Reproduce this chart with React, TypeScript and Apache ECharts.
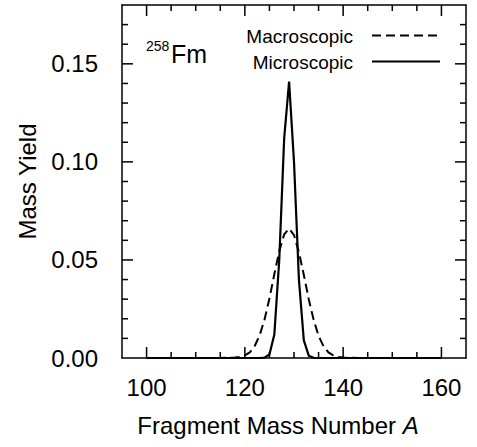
import React, { useEffect, useRef } from "react";
import * as echarts from "echarts";

const massNumbers = [
  100, 105, 110, 115, 116, 117, 118, 119, 120, 121, 122, 123, 124, 125, 126, 127, 128, 129,
  130, 131, 132, 133, 134, 135, 136, 137, 138, 139, 140, 141, 142, 143, 145, 150, 155, 160,
];
const macroscopic = [
  0, 0, 0, 0, 0.0001, 0.0001, 0.0002, 0.0005, 0.0013, 0.0029, 0.0061, 0.0115, 0.0196, 0.0303,
  0.0428, 0.0545, 0.063, 0.066, 0.0627, 0.054, 0.0423, 0.03, 0.0194, 0.0113, 0.006, 0.0029,
  0.0013, 0.0005, 0.0002, 0.0001, 0.0001, 0, 0, 0, 0, 0,
];
const microscopic = [
  0, 0, 0, 0, 0, 0, 0, 0, 0, 0, 0, 0, 0.0002, 0.0018, 0.012, 0.05, 0.112, 0.141, 0.1, 0.04,
  0.009, 0.0012, 0.0001, 0, 0, 0, 0, 0, 0, 0, 0, 0, 0, 0, 0, 0,
];
const xTickValues = [100, 105, 110, 115, 120, 125, 130, 135, 140, 145, 150, 155, 160];
const xMajorValues = [100, 120, 140, 160];
const yTickValues = [0.01, 0.02, 0.03, 0.04, 0.05, 0.06, 0.07, 0.08, 0.09, 0.1, 0.11, 0.12, 0.13, 0.14, 0.15, 0.16, 0.17];
const yMajorValues = [0, 0.05, 0.1, 0.15];
const legendNames = ["Macroscopic", "Microscopic"];

const FONT = "'Liberation Sans', Arial, Helvetica, sans-serif";
const X_MIN = 95;
const X_MAX = 165;
const Y_MIN = 0;
const Y_MAX = 0.18;
const GRID = { left: 122, right: 11, top: 5, bottom: 89 };
const W = 477;
const H = 447;
const MINOR = 6;
const MAJOR = 11;
const LW = 1.5;

function mkLine() {
  return { show: true, onZero: false, lineStyle: { color: "#000", width: LW } };
}

export default function App() {
  const ref = useRef<HTMLDivElement>(null);
  useEffect(() => {
    if (!ref.current) return;
    const chart = echarts.init(ref.current, undefined, { renderer: "svg" });
    const isXMajor = (v: number) => xMajorValues.some((m) => Math.abs(m - v) < 1e-9);
    const isYMajor = (v: number) => yMajorValues.some((m) => Math.abs(m - v) < 1e-9);

    chart.setOption({
      animation: false,
      textStyle: { fontFamily: FONT },
      grid: { ...GRID, outerBoundsMode: "none" },
      xAxis: [
        {
          type: "value",
          min: X_MIN,
          max: X_MAX,
          interval: 5,
          position: "bottom",
          axisLine: mkLine(),
          axisTick: { show: false },
          splitLine: { show: false },
          name: "{n|Fragment Mass Number }{i|A}",
          nameLocation: "middle",
          nameGap: 55,
          nameMoveOverlap: false,
          nameTextStyle: {
            padding: [0, 32, 0, 0],
            rich: {
              n: { fontSize: 24, color: "#000", fontFamily: FONT },
              i: { fontSize: 24, color: "#000", fontFamily: FONT, fontStyle: "italic" },
            },
          },
          axisLabel: {
            margin: 17,
            fontSize: 24,
            color: "#000",
            fontFamily: FONT,
            formatter: (v: number) => (isXMajor(v) ? String(Math.round(v)) : ""),
          },
        },
        {
          type: "value",
          min: X_MIN,
          max: X_MAX,
          interval: 5,
          position: "top",
          axisLine: mkLine(),
          axisTick: { show: false },
          splitLine: { show: false },
          axisLabel: { show: false },
        },
      ],
      yAxis: [
        {
          type: "value",
          min: Y_MIN,
          max: Y_MAX,
          interval: 0.01,
          position: "left",
          axisLine: mkLine(),
          axisTick: { show: false },
          splitLine: { show: false },
          name: "Mass Yield",
          nameLocation: "middle",
          nameGap: 83,
          nameMoveOverlap: false,
          nameTextStyle: { fontSize: 24, color: "#000", fontFamily: FONT },
          axisLabel: {
            margin: 24,
            fontSize: 24,
            color: "#000",
            fontFamily: FONT,
            formatter: (v: number) => (isYMajor(v) ? v.toFixed(2) : ""),
          },
        },
        {
          type: "value",
          min: Y_MIN,
          max: Y_MAX,
          interval: 0.01,
          position: "right",
          axisLine: mkLine(),
          axisTick: { show: false },
          splitLine: { show: false },
          axisLabel: { show: false },
        },
      ],
      series: [
        {
          name: legendNames[0],
          type: "line",
          symbol: "none",
          data: massNumbers.map((a, i) => [a, macroscopic[i]]),
          lineStyle: { color: "#000", width: 2, type: [9, 5] },
          itemStyle: { color: "#000" },
        },
        {
          name: legendNames[1],
          type: "line",
          symbol: "none",
          data: massNumbers.map((a, i) => [a, microscopic[i]]),
          lineStyle: { color: "#000", width: 2.2 },
          itemStyle: { color: "#000" },
        },
      ],
    });

    // tick marks: positions taken from the chart's own scales
    const toPx = (x: number, y: number) => chart.convertToPixel({ gridIndex: 0 }, [x, y]) as number[];
    const gfx: any[] = [];
    const rect = (x: number, y: number, w: number, h: number) =>
      gfx.push({ type: "rect", silent: true, z: 100, shape: { x, y, width: w, height: h }, style: { fill: "#000" } });
    xTickValues.forEach((v) => {
      const len = isXMajor(v) ? MAJOR : MINOR;
      const b = toPx(v, Y_MIN);
      const t = toPx(v, Y_MAX);
      rect(b[0] - LW / 2, b[1] - len, LW, len);
      rect(t[0] - LW / 2, t[1], LW, len);
    });
    yTickValues.forEach((v) => {
      const len = isYMajor(v) ? MAJOR : MINOR;
      const l = toPx(X_MIN, v);
      const r = toPx(X_MAX, v);
      rect(l[0], l[1] - LW / 2, len, LW);
      rect(r[0] - len, r[1] - LW / 2, len, LW);
    });

    // legend: text right-aligned, sample line to its right
    const legTextRight = 353;
    const legLineX = 372;
    const legLineW = 68;
    const legY = [35.5, 61.5];
    legendNames.forEach((name, i) => {
      gfx.push({
        type: "text",
        x: legTextRight,
        y: legY[i] + 1,
        style: {
          text: name,
          fontSize: 19,
          fontFamily: FONT,
          fill: "#000",
          align: "right",
          verticalAlign: "middle",
          textAlign: "right",
          textVerticalAlign: "middle",
        },
      });
    });
    for (let x = legLineX; x + 9 <= legLineX + legLineW; x += 14) {
      gfx.push({ type: "rect", shape: { x, y: legY[0] - 1, width: 9, height: 2 }, style: { fill: "#000" } });
    }
    gfx.push({ type: "rect", shape: { x: legLineX, y: legY[1] - 1.1, width: legLineW, height: 2.2 }, style: { fill: "#000" } });

    gfx.push({ type: "text", left: 146, top: 39, style: { text: "258", fontSize: 14, fontFamily: FONT, fill: "#000" } });
    gfx.push({ type: "text", left: 171, top: 41, style: { text: "Fm", fontSize: 25, fontFamily: FONT, fill: "#000" } });

    chart.setOption({ graphic: gfx });
    return () => chart.dispose();
  }, []);
  return <div ref={ref} style={{ width: W, height: H, position: "absolute", left: 0, top: 0 }} />;
}
